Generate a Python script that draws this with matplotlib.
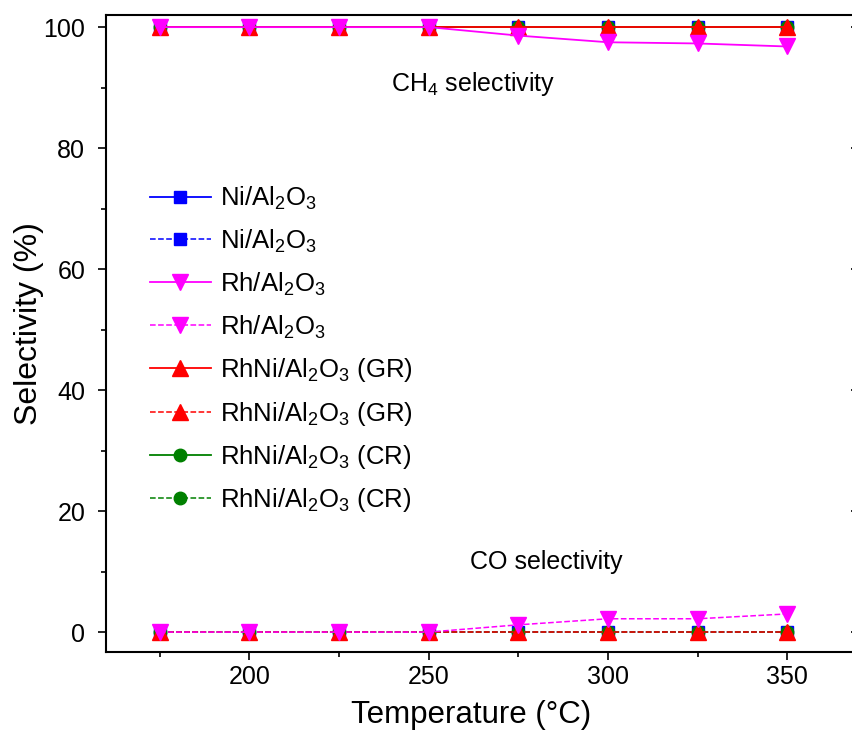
import matplotlib
matplotlib.use("Agg")
import matplotlib.pyplot as plt
from matplotlib.ticker import MultipleLocator

plt.rcParams["font.family"] = ["Liberation Sans", "DejaVu Sans"]
plt.rcParams["mathtext.fontset"] = "custom"
plt.rcParams["mathtext.rm"] = "Liberation Sans"

# Temperatura (°C)
temp = [175, 200, 225, 250, 275, 300, 325, 350]

# Seletividade CH4 (%)
ch4_ni = [100, 100, 100, 100, 100, 100, 100, 100]
ch4_rh = [100, 100, 100, 100, 98.6, 97.5, 97.3, 96.8]
ch4_gr = [100, 100, 100, 100, 100, 100, 100, 100]
ch4_cr = [100, 100, 100, 100, 100, 100, 100, 100]

# Seletividade CO (%)
co_ni = [0, 0, 0, 0, 0, 0, 0, 0]
co_rh = [0, 0, 0, 0, 1.2, 2.2, 2.2, 3.0]
co_gr = [0, 0, 0, 0, 0, 0, 0, 0]
co_cr = [0, 0, 0, 0, 0, 0, 0, 0]

labels = [
    "Ni/Al$_2$O$_3$",
    "Rh/Al$_2$O$_3$",
    "RhNi/Al$_2$O$_3$ (GR)",
    "RhNi/Al$_2$O$_3$ (CR)",
]

fig = plt.figure(figsize=(8.52, 7.30), dpi=100)
ax = fig.add_axes([0.1244, 0.1068, 0.884, 0.8726])

estilos = {
    "ni": dict(color="#0000FF", marker="s", ms=9),
    "rh": dict(color="#FF00FF", marker="v", ms=11),
    "gr": dict(color="#FF0000", marker="^", ms=11),
    "cr": dict(color="#008000", marker="o", ms=9),
}

h = {}
# ordem de desenho: Ni, CR, GR, Rh
for z, (key, ch4, co, lab) in enumerate([
    ("ni", ch4_ni, co_ni, labels[0]),
    ("cr", ch4_cr, co_cr, labels[3]),
    ("gr", ch4_gr, co_gr, labels[2]),
    ("rh", ch4_rh, co_rh, labels[1]),
]):
    s = estilos[key]
    l1, = ax.plot(temp, ch4, linestyle="-", lw=1.3, zorder=3 + z, label=lab, **s)
    l2, = ax.plot(temp, co, linestyle="--", lw=1.1, zorder=3 + z, label=lab, **s)
    h[key] = (l1, l2)

handles = []
for key in ["ni", "rh", "gr", "cr"]:
    handles += list(h[key])
leg_labels = [labels[0]] * 2 + [labels[1]] * 2 + [labels[2]] * 2 + [labels[3]] * 2
ax.legend(handles, leg_labels, loc="upper left", bbox_to_anchor=(0.045, 0.75),
          frameon=False, fontsize=18.5, labelspacing=0.6, handlelength=2.35,
          handletextpad=0.35, borderaxespad=0)

ax.text(0.487, 0.892, "CH$_4$ selectivity", transform=ax.transAxes,
        ha="center", va="center", fontsize=18)
ax.text(0.584, 0.142, "CO selectivity", transform=ax.transAxes,
        ha="center", va="center", fontsize=18)

ax.set_xlim(160, 370)
ax.set_ylim(-3.3, 102)
ax.xaxis.set_major_locator(MultipleLocator(50))
ax.xaxis.set_minor_locator(MultipleLocator(25))
ax.yaxis.set_major_locator(MultipleLocator(20))
ax.yaxis.set_minor_locator(MultipleLocator(10))
ax.set_xticks([200, 250, 300, 350])

ax.tick_params(axis="both", which="major", direction="out", length=6, width=1.2,
               labelsize=18)
ax.tick_params(axis="y", which="major", pad=9)
ax.tick_params(axis="both", which="minor", direction="out", length=3.5, width=1.2)
for sp in ax.spines.values():
    sp.set_linewidth(1.5)

# ticks no lado direito (para dentro)
ay = ax.secondary_yaxis("right")
ay.yaxis.set_major_locator(MultipleLocator(20))
ay.yaxis.set_minor_locator(MultipleLocator(10))
ay.tick_params(which="major", direction="in", length=6, width=1.2, labelright=False)
ay.tick_params(which="minor", direction="in", length=3.5, width=1.2)

ax.set_xlabel("Temperature (°C)", fontsize=22.5)
ax.xaxis.set_label_coords(0.485, -0.075)
ax.set_ylabel("Selectivity (%)", fontsize=23)
ax.yaxis.set_label_coords(-0.082, 0.515)

fig.savefig("out.png", dpi=100)
